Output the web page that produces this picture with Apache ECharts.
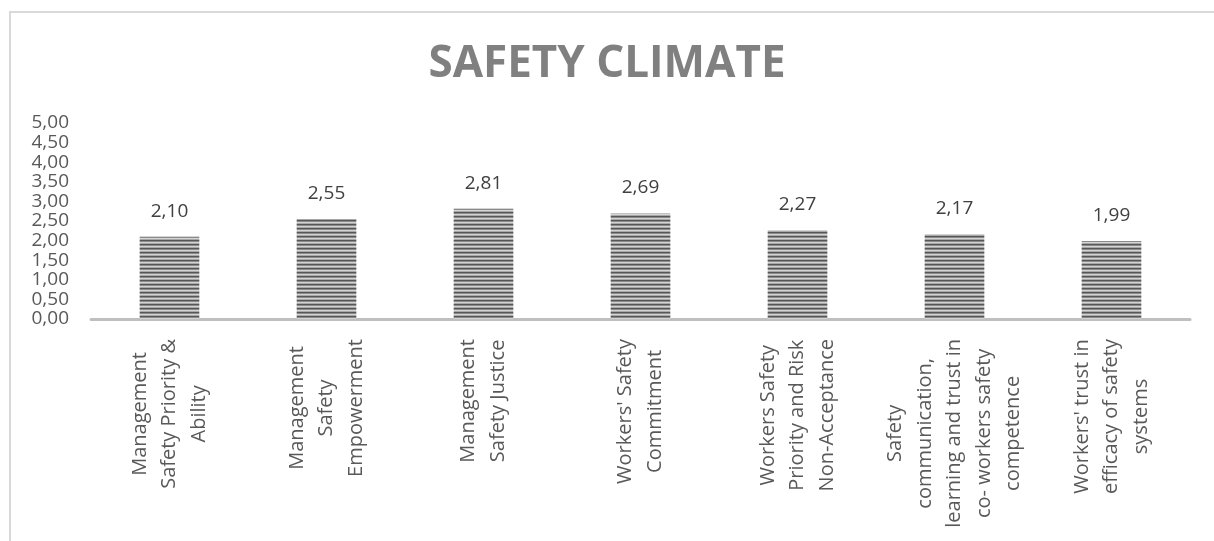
<!DOCTYPE html>
<html>
<head>
<meta charset="utf-8">
<script src="https://cdn.jsdelivr.net/npm/echarts@6/dist/echarts.min.js"></script>
<style>
  html, body { margin: 0; padding: 0; background: #fff; }
  .frame {
    position: absolute; left: 9px; top: 11px; width: 1300px; height: 600px;
    border-top: 2px solid #d9d9d9; border-left: 2px solid #d9d9d9;
  }
  #chart { position: absolute; left: 0; top: 0; width: 1214px; height: 541px; }
</style>
</head>
<body>
<div class="frame"></div>
<div id="chart"></div>
<script>
const categories = [
  'Management\nSafety Priority &\nAbility',
  'Management\nSafety\nEmpowerment',
  'Management\nSafety Justice',
  "Workers' Safety\nCommitment",
  'Workers Safety\nPriority and Risk\nNon-Acceptance',
  'Safety\ncommunication,\nlearning and trust in\nco- workers safety\ncompetence',
  "Workers' trust in\nefficacy of safety\nsystems"
]
const scores = [2.10, 2.55, 2.81, 2.69, 2.27, 2.17, 1.99]
const yTicks = { min: 0, max: 5, step: 0.5 }

const fmt = (v) => Number(v).toFixed(2).replace('.', ',')

// striped fill like the excel pattern
const makeStripes = () => {
  const c = document.createElement('canvas')
  c.width = 8
  c.height = 4
  const ctx = c.getContext('2d')
  const rows = ['#575757', '#8a8a8a', '#d4d4d4', '#a8a8a8']
  rows.forEach((col, i) => {
    ctx.fillStyle = col
    ctx.fillRect(0, i, 8, 1)
  })
  return c
}

const chart = echarts.init(document.getElementById('chart'), null, { renderer: 'canvas' })

chart.setOption({
  backgroundColor: 'transparent',
  textStyle: { fontFamily: '"Open Sans", sans-serif' },
  title: {
    text: 'SAFETY CLIMATE',
    left: 'center',
    top: 37,
    textStyle: { fontSize: 44, fontWeight: 'bold', color: '#808080', fontFamily: '"Open Sans", sans-serif' }
  },
  grid: { left: 91, right: 24, top: 123, bottom: 222, containLabel: false },
  xAxis: {
    type: 'category',
    data: categories,
    axisLine: { lineStyle: { color: '#bfbfbf', width: 3 } },
    axisTick: { show: false },
    axisLabel: {
      interval: 0,
      rotate: 90,
      margin: 20,
      formatter: (v) => v.split('\n').map(l => '{c|' + l + '}').join('\n'),
      rich: {
        c: { align: 'center', fontSize: 20, lineHeight: 29.5, color: '#595959', fontFamily: '"Open Sans", sans-serif' }
      }
    }
  },
  yAxis: {
    type: 'value',
    min: yTicks.min,
    max: yTicks.max,
    interval: yTicks.step,
    axisLine: { show: false },
    axisTick: { show: false },
    splitLine: { show: false },
    axisLabel: {
      formatter: fmt,
      fontSize: 19,
      color: '#595959',
      margin: 22
    }
  },
  series: [{
    type: 'bar',
    data: scores,
    barWidth: '38%',
    itemStyle: { color: { image: makeStripes(), repeat: 'repeat' } },
    label: {
      show: true,
      position: 'top',
      distance: 16,
      formatter: (p) => fmt(p.value),
      fontSize: 19,
      color: '#404040'
    },
    emphasis: { disabled: true }
  }]
})
</script>
</body>
</html>
